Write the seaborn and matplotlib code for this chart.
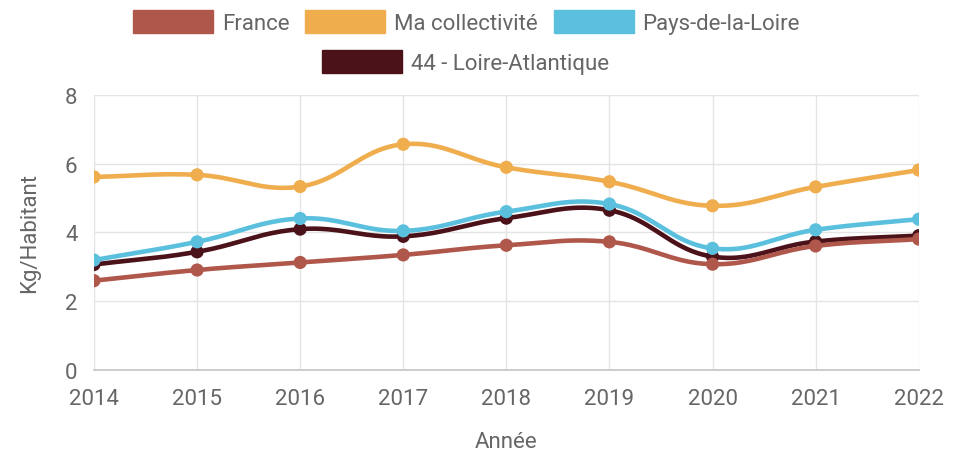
import numpy as np
import pandas as pd
import matplotlib
matplotlib.use("Agg")
import matplotlib.pyplot as plt
from matplotlib.patches import Patch
import seaborn as sns

years = [2014, 2015, 2016, 2017, 2018, 2019, 2020, 2021, 2022]
france = [2.59, 2.90, 3.12, 3.34, 3.62, 3.72, 3.07, 3.60, 3.80]
ma_collectivite = [5.61, 5.67, 5.33, 6.56, 5.89, 5.47, 4.77, 5.32, 5.81]
pays_de_la_loire = [3.19, 3.72, 4.40, 4.04, 4.60, 4.82, 3.53, 4.07, 4.38]
loire_atlantique = [3.06, 3.43, 4.09, 3.88, 4.41, 4.64, 3.29, 3.73, 3.90]

series_names = ["France", "Ma collectivité", "Pays-de-la-Loire", "44 - Loire-Atlantique"]
series_values = [france, ma_collectivite, pays_de_la_loire, loire_atlantique]
colors = ["#b0574b", "#f0ad4e", "#5bc0de", "#4b121a"]
palette = dict(zip(series_names, colors))

# raw points
df = pd.DataFrame({
    "year": years * len(series_names),
    "value": sum(series_values, []),
    "serie": np.repeat(series_names, len(years)),
})


def smooth(xv, yv, tension=0.4, sx=103.0, sy=34.4, n=24):
    # chart.js-like bezier smoothing, computed in pixel-ish space
    px = np.asarray(xv, float) * sx
    py = np.asarray(yv, float) * sy
    m = len(px)
    cp_prev = np.zeros((m, 2))
    cp_next = np.zeros((m, 2))
    for i in range(m):
        p0 = np.array([px[max(i - 1, 0)], py[max(i - 1, 0)]])
        p1 = np.array([px[i], py[i]])
        p2 = np.array([px[min(i + 1, m - 1)], py[min(i + 1, m - 1)]])
        d01 = np.hypot(*(p1 - p0))
        d12 = np.hypot(*(p2 - p1))
        tot = d01 + d12
        s01 = d01 / tot if tot else 0
        s12 = d12 / tot if tot else 0
        cp_prev[i] = p1 - tension * s01 * (p2 - p0)
        cp_next[i] = p1 + tension * s12 * (p2 - p0)
    out_x, out_y = [], []
    t = np.linspace(0, 1, n)
    for i in range(m - 1):
        a = np.array([px[i], py[i]])
        b = cp_next[i]
        c = cp_prev[i + 1]
        d = np.array([px[i + 1], py[i + 1]])
        pts = ((1 - t) ** 3)[:, None] * a + (3 * (1 - t) ** 2 * t)[:, None] * b \
            + (3 * (1 - t) * t ** 2)[:, None] * c + (t ** 3)[:, None] * d
        if i > 0:
            pts = pts[1:]
        out_x.extend(pts[:, 0] / sx)
        out_y.extend(pts[:, 1] / sy)
    return out_x, out_y


rows = {"year": [], "value": [], "serie": []}
for name, vals in zip(series_names, series_values):
    cx, cy = smooth(years, vals)
    rows["year"] += cx
    rows["value"] += cy
    rows["serie"] += [name] * len(cx)
curves = pd.DataFrame(rows)

sns.set_theme(style="whitegrid")
plt.rcParams["font.family"] = ["Roboto", "DejaVu Sans"]
grey = "#666666"
gridc = "#e4e4e4"
fs = 16

fig = plt.figure(figsize=(9.64, 4.52), dpi=100)
ax = fig.add_axes([0.0975, 0.180, 0.8555, 0.608])

# draw last series first so France ends on top
for k in range(len(series_names) - 1, -1, -1):
    name = series_names[k]
    sub = curves[curves["serie"] == name]
    sns.lineplot(data=sub, x="year", y="value", color=palette[name], lw=3.3,
                 sort=False, estimator=None, ax=ax, zorder=3 + 2 * (3 - k))
    pts = df[df["serie"] == name]
    sns.scatterplot(data=pts, x="year", y="value", color=palette[name], s=90,
                    edgecolor="none", ax=ax, zorder=4 + 2 * (3 - k))

ax.set_xlim(2014, 2022)
ax.set_ylim(0, 8)
ax.set_xticks(years)
ax.set_xticklabels([str(y) for y in years])
ax.set_yticks([0, 2, 4, 6, 8])
ax.grid(True, color=gridc, lw=1)
for s in ["left", "right", "top"]:
    ax.spines[s].set_visible(False)
ax.spines["bottom"].set_color("#c4c4c4")
ax.spines["bottom"].set_linewidth(1.2)
ax.tick_params(axis="both", colors=gridc, labelcolor=grey, labelsize=fs,
               length=7, width=1)
ax.tick_params(axis="x", pad=6)
ax.tick_params(axis="y", pad=5)
ax.set_xlabel("Année", color=grey, fontsize=fs, labelpad=16)
ax.set_ylabel("Kg/Habitant", color=grey, fontsize=fs, labelpad=18)

handles = [Patch(facecolor=c, edgecolor=c) for c in colors]
leg_kw = dict(frameon=False, fontsize=fs, handlelength=3.6, handleheight=1.2,
              handletextpad=0.4, columnspacing=0.7, borderpad=0, labelcolor=grey)
leg1 = fig.legend(handles[:3], series_names[:3], ncol=3, loc="center",
                  bbox_to_anchor=(0.484, 1 - 23 / 452), **leg_kw)
leg2 = fig.legend(handles[3:], series_names[3:], ncol=1, loc="center",
                  bbox_to_anchor=(0.483, 1 - 63 / 452), **leg_kw)

fig.savefig("out.png", dpi=100)
